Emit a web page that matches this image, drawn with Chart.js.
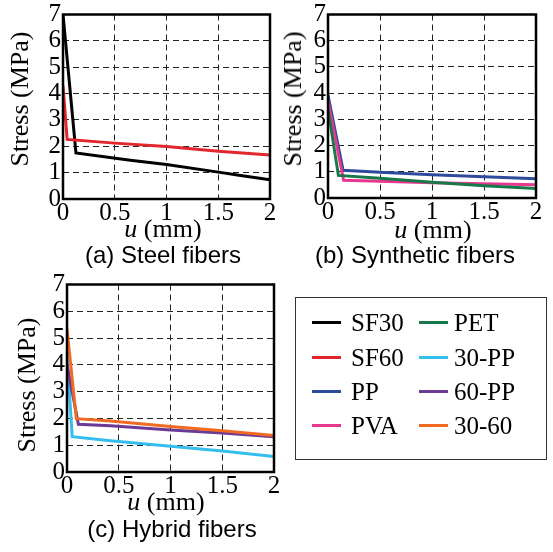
<!DOCTYPE html>
<html>
<head>
<meta charset="utf-8">
<script src="https://cdn.jsdelivr.net/npm/chart.js@4.4.1/dist/chart.umd.min.js"></script>
<style>
  body { margin: 0; background: #fff; width: 553px; height: 552px; position: relative; overflow: hidden; }
  canvas { position: absolute; }
  .lbl { position: absolute; white-space: nowrap; line-height: 1; color: #000; transform: translate(-50%, -50%); }
  .serif { font-family: "Liberation Serif", serif; font-size: 26px; }
  .sans { font-family: "Liberation Sans", sans-serif; font-size: 24px; }
  .rot { transform: translate(-50%, -50%) rotate(-90deg); }
  #legend { position: absolute; left: 295px; top: 297px; width: 250px; height: 161px; border: 1.5px solid #333;
            font-family: "Liberation Serif", serif; font-size: 25px; }
  .lg-line { position: absolute; height: 3px; width: 29px; }
  .lg-text { position: absolute; line-height: 25px; color: #000; white-space: nowrap; }
</style>
</head>
<body>
<div id="holder"></div>

<div class="lbl serif rot" style="left:20px;top:99px">Stress (MPa)</div>
<div class="lbl serif" style="left:163px;top:229px"><i>u</i> (mm)</div>
<div class="lbl sans" style="left:163px;top:255px">(a) Steel fibers</div>

<div class="lbl serif rot" style="left:293px;top:99px">Stress (MPa)</div>
<div class="lbl serif" style="left:433px;top:230px"><i>u</i> (mm)</div>
<div class="lbl sans" style="left:415px;top:255px">(b) Synthetic fibers</div>

<div class="lbl serif rot" style="left:27px;top:385px">Stress (MPa)</div>
<div class="lbl serif" style="left:166px;top:502px"><i>u</i> (mm)</div>
<div class="lbl sans" style="left:172px;top:529px">(c) Hybrid fibers</div>

<div id="legend"></div>
<script>
// Axis ticks
var xTicks = [0, 0.5, 1, 1.5, 2];
var yTicks = [0, 1, 2, 3, 4, 5, 6, 7];

// Series names / colours (legend order)
var seriesNames = ['SF30', 'SF60', 'PP', 'PVA', 'PET', '30-PP', '60-PP', '30-60'];
var seriesColors = ['#000000', '#e3262c', '#2d4a9c', '#e8378f', '#17794a', '#35bdee', '#6b3a96', '#f06a22'];

// (a) Steel fibers
var uSF30 = [0, 0.125, 0.65, 1, 1.5, 1.7, 2];
var sSF30 = [7, 1.75, 1.47, 1.31, 1.02, 0.9, 0.73];
var uSF60 = [0, 0.04, 0.5, 1, 1.5, 2];
var sSF60 = [4.3, 2.26, 2.12, 1.99, 1.81, 1.67];

// (b) Synthetic fibers
var uPP = [0, 0.145, 0.5, 1, 1.5, 2];
var sPP = [3.92, 1.06, 0.98, 0.89, 0.81, 0.73];
var uPVA = [0, 0.15, 0.5, 1, 1.5, 2];
var sPVA = [3.7, 0.68, 0.64, 0.58, 0.54, 0.51];
var uPET = [0, 0.1, 0.5, 1, 1.5, 2];
var sPET = [3.4, 0.86, 0.75, 0.6, 0.47, 0.36];

// (c) Hybrid fibers
var u30PP = [0, 0.05, 0.42, 1, 1.5, 2];
var s30PP = [4.4, 1.32, 1.17, 0.96, 0.78, 0.58];
var u60PP = [0, 0.11, 0.42, 1, 1.5, 2];
var s60PP = [4.0, 1.78, 1.73, 1.57, 1.46, 1.32];
var u3060 = [0, 0.09, 0.42, 1, 1.5, 2];
var s3060 = [5.35, 1.99, 1.9, 1.7, 1.54, 1.36];

var serif = "'Liberation Serif', 'DejaVu Serif', serif";
var charts = [];

function lineSet(name, us, ss) {
    var i = seriesNames.indexOf(name);
    return {
        label: name,
        data: us.map(function(u, k) { return { x: u, y: ss[k] }; }),
        borderColor: seriesColors[i],
        backgroundColor: seriesColors[i],
        borderWidth: 3,
        pointRadius: 0,
        fill: false,
        tension: 0
    };
}

// solid frame round the plot area
var framePlugin = {
    id: 'frame',
    afterDraw: function(chart) {
        var ctx = chart.ctx, a = chart.chartArea;
        ctx.save();
        ctx.lineWidth = 2.5;
        ctx.strokeStyle = '#000';
        ctx.strokeRect(a.left, a.top, a.right - a.left, a.bottom - a.top);
        ctx.restore();
    }
};

function makePanel(pos, box, sets) {
    // a fresh canvas each time, so the font is parsed anew
    var cv = document.createElement('canvas');
    cv.width = pos.w;
    cv.height = pos.h;
    cv.style.left = pos.x + 'px';
    cv.style.top = pos.y + 'px';
    document.getElementById('holder').appendChild(cv);

    var chart = new Chart(cv, {
        type: 'line',
        data: { datasets: sets },
        options: {
            responsive: false,
            animation: false,
            devicePixelRatio: 1,
            layout: { padding: { top: box.top, right: box.right, left: 0, bottom: 0 } },
            plugins: { legend: { display: false }, tooltip: { enabled: false } },
            scales: {
                x: {
                    type: 'linear', min: 0, max: 2,
                    afterBuildTicks: function(s) { s.ticks = xTicks.map(function(v) { return { value: v }; }); },
                    afterFit: function(s) { s.height = box.bottom; },
                    grid: { color: '#222', lineWidth: 1, drawTicks: false },
                    border: { display: false, dash: [6, 4] },
                    ticks: { font: { family: serif, size: 25, lineHeight: 1 }, color: '#000', padding: 2,
                             maxRotation: 0, autoSkip: false, callback: function(v) { return String(v); } }
                },
                y: {
                    type: 'linear', min: 0, max: 7,
                    afterBuildTicks: function(s) { s.ticks = yTicks.map(function(v) { return { value: v }; }); },
                    afterFit: function(s) { s.width = box.left; },
                    grid: { color: '#222', lineWidth: 1, drawTicks: false },
                    border: { display: false, dash: [6, 4] },
                    ticks: { font: { family: serif, size: 25, lineHeight: 1 }, color: '#000', padding: 2,
                             autoSkip: false, callback: function(v) { return String(v); } }
                }
            }
        },
        plugins: [framePlugin]
    });
    charts.push(chart);
}

function buildAll() {
    charts.forEach(function(c) { c.destroy(); });
    charts = [];
    document.getElementById('holder').innerHTML = '';

    makePanel({ x: 0, y: 0, w: 280, h: 270 }, { left: 63, top: 10, right: 10, bottom: 71 },
        [lineSet('SF60', uSF60, sSF60), lineSet('SF30', uSF30, sSF30)]);

    makePanel({ x: 270, y: 0, w: 283, h: 270 }, { left: 58, top: 10, right: 17, bottom: 72 },
        [lineSet('PET', uPET, sPET), lineSet('PVA', uPVA, sPVA), lineSet('PP', uPP, sPP)]);

    makePanel({ x: 0, y: 270, w: 290, h: 282 }, { left: 67, top: 12, right: 16, bottom: 80 },
        [lineSet('30-60', u3060, s3060), lineSet('60-PP', u60PP, s60PP), lineSet('30-PP', u30PP, s30PP)]);
}

// Legend box (two columns of four)
var legend = document.getElementById('legend');
var colX = [[16, 55], [123, 158]];
var rowY = [24.5, 59, 93, 127];
seriesNames.forEach(function(name, i) {
    var c = Math.floor(i / 4), r = i % 4;
    var line = document.createElement('div');
    line.className = 'lg-line';
    line.style.left = colX[c][0] + 'px';
    line.style.top = (rowY[r] - 1.5) + 'px';
    line.style.background = seriesColors[i];
    legend.appendChild(line);
    var t = document.createElement('div');
    t.className = 'lg-text';
    t.style.left = colX[c][1] + 'px';
    t.style.top = (rowY[r] - 12.5) + 'px';
    t.textContent = name;
    legend.appendChild(t);
});

buildAll();
// build again once the page (and the serif face used by the labels) has been laid out
window.addEventListener('load', function() {
    requestAnimationFrame(function() { buildAll(); });
});
</script>
</body>
</html>
